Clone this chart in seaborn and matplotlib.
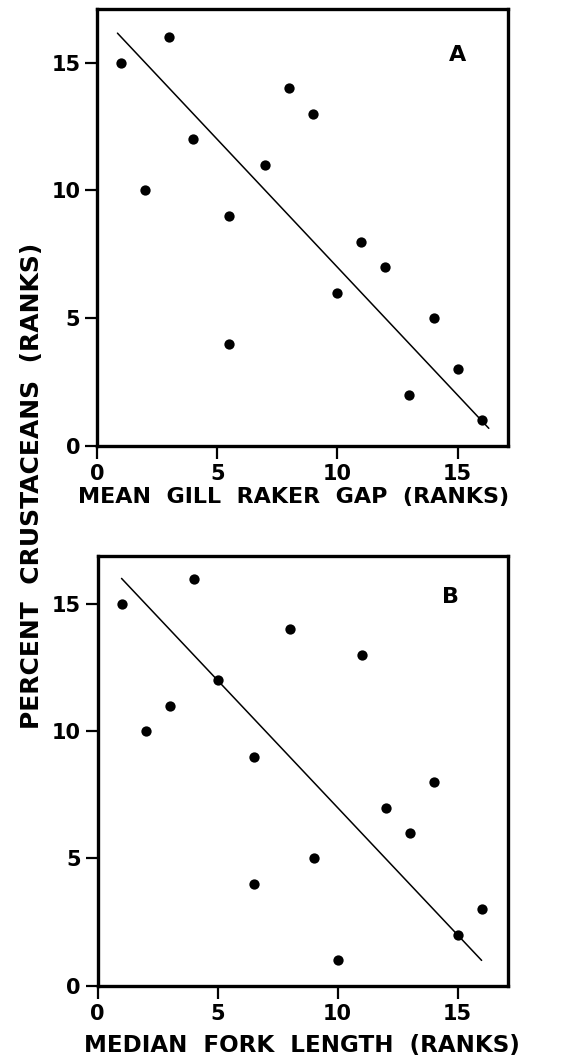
import numpy as np
import pandas as pd
import matplotlib
matplotlib.use("Agg")
import matplotlib.pyplot as plt
import seaborn as sns

# panel A: mean gill raker gap vs percent crustaceans (ranks)
gap_rank_a = [1, 3, 2, 4, 5.5, 5.5, 7, 8, 9, 10, 11, 12, 13, 14, 15, 16]
crust_rank_a = [15, 16, 10, 12, 9, 4, 11, 14, 13, 6, 8, 7, 2, 5, 3, 1]
fit_range_a = [0.85, 16.3]

# panel B: median fork length vs percent crustaceans (ranks)
fork_rank_b = [1, 4, 2, 3, 5, 6.5, 6.5, 8, 9, 10, 11, 12, 13, 14, 15, 16]
crust_rank_b = [15, 16, 10, 11, 12, 9, 4, 14, 5, 1, 13, 7, 6, 8, 2, 3]
fit_range_b = [1.0, 16.0]

ticks = [0, 5, 10, 15]

sns.set_style("ticks")
plt.rcParams['font.family'] = ['DejaVu Sans']
plt.rcParams['font.weight'] = 'bold'
for k in ['text.color', 'axes.labelcolor', 'xtick.color', 'ytick.color',
          'xtick.labelcolor', 'ytick.labelcolor']:
    plt.rcParams[k] = 'black'


def rma_line(x, y, xr):
    # reduced major axis through the means
    x = np.asarray(x, float)
    y = np.asarray(y, float)
    r = np.corrcoef(x, y)[0, 1]
    slope = np.sign(r) * y.std() / x.std()
    icpt = y.mean() - slope * x.mean()
    xs = np.array(xr)
    return pd.DataFrame({"x": xs, "y": icpt + slope * xs})


def panel(ax, x, y, xr, letter, xlabel, ytop, letter_pos, label_pos, lsize):
    df = pd.DataFrame({"x": x, "y": y})
    sns.scatterplot(data=df, x="x", y="y", ax=ax, color="black", s=55,
                    edgecolor="black", linewidth=0, zorder=3)
    sns.lineplot(data=rma_line(x, y, xr), x="x", y="y", ax=ax,
                 color="black", linewidth=1.1)
    ax.set_xlim(0, 17.1)
    ax.set_ylim(0, ytop)
    ax.set_xticks(ticks)
    ax.set_yticks(ticks)
    ax.set_xticklabels([str(t) for t in ticks], fontsize=15, fontweight="bold")
    ax.set_yticklabels([str(t) for t in ticks], fontsize=15, fontweight="bold")
    ax.tick_params(direction="out", length=9, width=1.6, pad=3, color="black")
    ax.tick_params(axis="x", pad=4)
    for sp in ax.spines.values():
        sp.set_visible(True)
        sp.set_linewidth(2.4)
        sp.set_color("black")
    ax.set_ylabel("")
    ax.set_xlabel(xlabel, fontsize=lsize, fontweight="bold", color="black")
    ax.xaxis.set_label_coords(*label_pos)
    ax.text(letter_pos[0], letter_pos[1], letter, transform=ax.transAxes,
            fontsize=16, fontweight="bold", ha="center", va="center",
            color="black")


fig = plt.figure(figsize=(5.71, 10.6), dpi=100)
ax_a = fig.add_axes([0.1699, 0.5792, 0.7198, 0.4123])
ax_b = fig.add_axes([0.1708, 0.0701, 0.7189, 0.4057])

panel(ax_a, gap_rank_a, crust_rank_a, fit_range_a, "A",
      "MEAN  GILL  RAKER  GAP  (RANKS)", 17.1, (0.876, 0.895),
      (0.479, -0.094), 16)
panel(ax_b, fork_rank_b, crust_rank_b, fit_range_b, "B",
      "MEDIAN  FORK  LENGTH  (RANKS)", 16.9, (0.859, 0.904),
      (0.497, -0.112), 16.6)

fig.text(0.0555, 0.5415, "PERCENT  CRUSTACEANS  (RANKS)", rotation=90,
         fontsize=18, fontweight="bold", ha="center", va="center",
         color="black")

fig.savefig("out.png", dpi=100)
